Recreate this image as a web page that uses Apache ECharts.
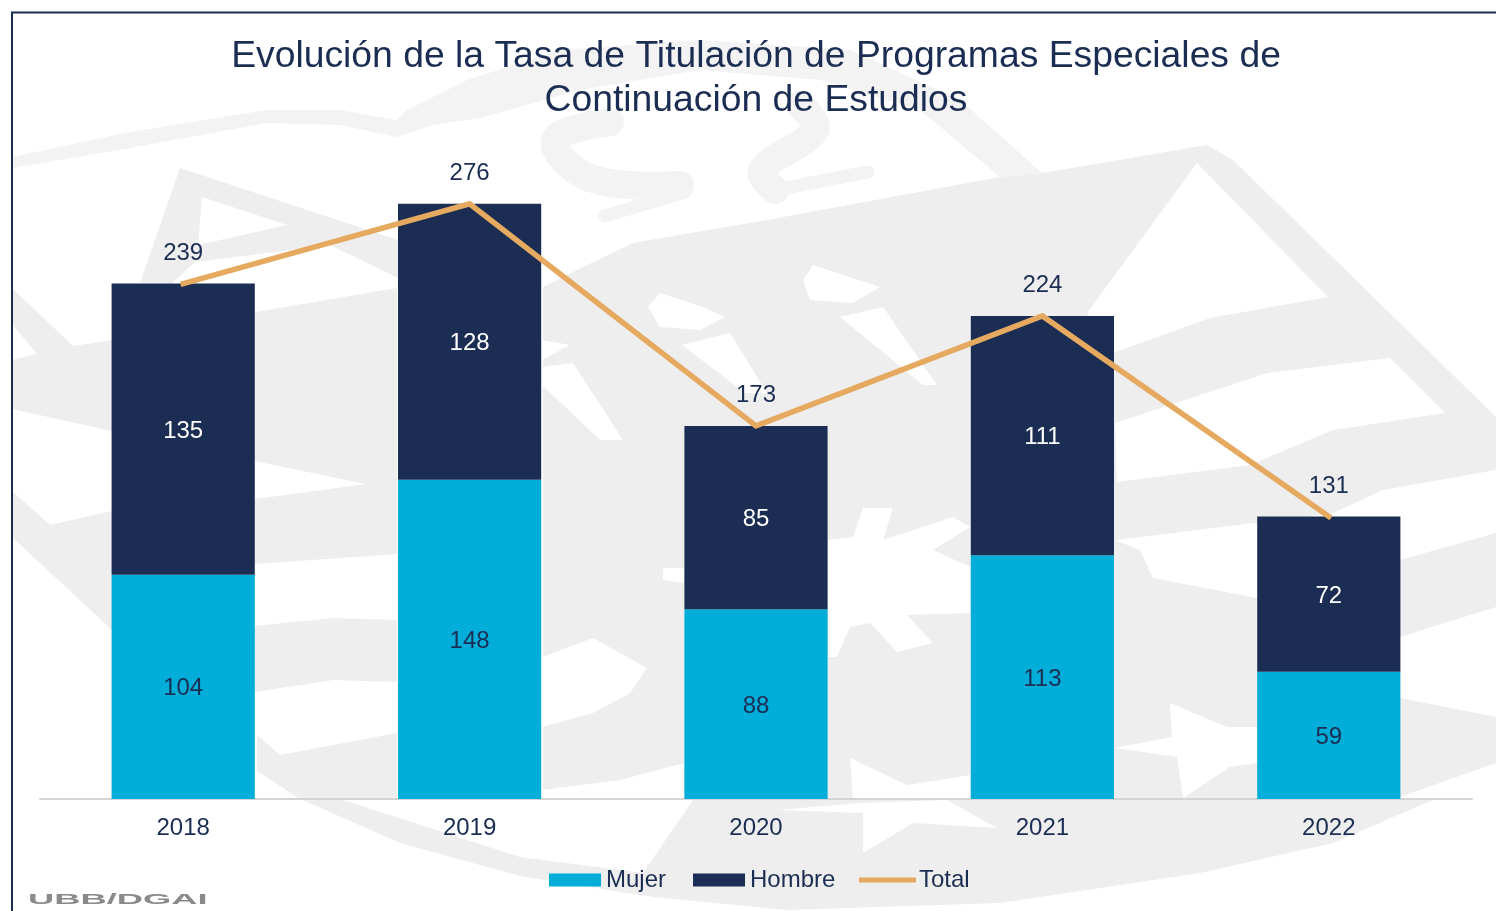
<!DOCTYPE html>
<html><head><meta charset="utf-8">
<style>html,body{margin:0;padding:0;background:#fff}#c{width:1496px;height:911px}</style>
<script src="https://cdn.jsdelivr.net/npm/echarts@6/dist/echarts.min.js"></script>
</head><body><div id="c"></div>
<script>
const titleText = 'Evolución de la Tasa de Titulación de Programas Especiales de\nContinuación de Estudios';
const categories = ['2018','2019','2020','2021','2022'];
const mujer = [104,148,88,113,59];
const hombre = [135,128,85,111,72];
const total = [239,276,173,224,131];
const navy = '#1b2d52', cyan = '#00aed9', gold = '#e5a95f';
const font = '"Liberation Sans", Arial, sans-serif';
const wmGrey = '#eeeeee', wmLight = '#f3f3f3';

// Faint crest drawn behind the chart (decoration only, not data)
const greyShapes = [
  [[543,287],[583,267],[633,243],[767,220],[1000,177],[1042,173],[1207,145],[1233,160],[1496,417],[1496,470],[1383,490],[1333,513],[1117,540],[1115,800],[543,800]],
  [[12,288],[73,346],[112,340],[255,312],[397,288],[397,480],[370,485],[255,461],[112,431],[12,409]],
  [[255,499],[397,480],[397,554],[255,564]],
  [[12,491],[50,525],[112,511],[255,499],[255,564],[112,630],[12,537]],
  [[255,626],[333,618],[397,620],[397,682],[333,680],[255,692]],
  [[257,735],[280,755],[397,733],[397,800],[300,799],[257,771]],
  [[1115,540],[1140,550],[1153,578],[1257,598],[1400,640],[1400,800],[1115,800]],
  [[1400,560],[1496,533],[1496,607],[1400,637]],
  [[1400,698],[1496,717],[1496,763],[1400,797]],
  [[300,799],[340,799],[520,857],[643,873],[693,800],[1433,800],[1333,843],[1200,873],[1000,903],[787,910],[653,897],[520,876],[400,843]],
  [[180,168],[398,240],[398,278],[330,245],[195,262],[172,283],[140,283]]
];
const lightShapes = [
  [[12,157],[130,132],[267,110],[340,110],[397,120],[407,110],[467,80],[560,50],[700,40],[850,50],[960,100],[1042,173],[1000,177],[920,110],[820,80],[700,70],[580,90],[480,118],[433,125],[397,137],[340,125],[267,123],[130,148],[12,168]]
];
const curlStrokes = [
  [[610,122],[555,140],[590,178],[680,185]],
  [[800,105],[815,130],[762,170],[775,190]]
];
const thinStrokes = [
  [[685,192],[605,216]],
  [[775,190],[868,172]]
];
const whiteShapes = [
  [[202,197],[287,225],[198,245]],
  [[12,324],[37,354],[12,360]],
  [[1197,163],[1328,297],[1210,318],[1113,353],[1087,313]],
  [[1115,423],[1267,373],[1390,358],[1445,413],[1333,430],[1250,465],[1117,482]],
  [[648,307],[660,293],[703,307],[725,317],[700,330],[660,327]],
  [[803,280],[813,265],[880,287],[853,303],[810,300]],
  [[840,317],[883,307],[937,385],[923,385]],
  [[682,345],[730,333],[767,393],[745,393]],
  [[542,340],[570,345],[542,360]],
  [[542,367],[573,363],[623,440],[600,440],[542,385]],
  [[542,657],[593,638],[647,668],[630,693],[593,713],[542,727]],
  [[542,790],[620,780],[684,763],[684,800],[542,800]],
  [[663,568],[684,568],[684,583],[663,580]],
  [[828,540],[853,537],[863,508],[893,508],[883,540],[953,517],[970,527],[933,550],[970,567],[970,613],[907,615],[933,643],[897,652],[870,623],[850,627],[837,657],[828,657]],
  [[850,758],[907,785],[970,775],[970,800],[853,800]],
  [[1170,703],[1227,727],[1257,727],[1257,763],[1230,767],[1183,798],[1177,757],[1115,748],[1172,737]],
  [[777,810],[860,803],[947,800],[997,828],[913,823],[863,853],[863,813]]
];

const poly = (points, fill) => ({type:'polygon', silent:true, z:-10, shape:{points}, style:{fill}});
const line = (points, w) => ({type:'polyline', silent:true, z:-10, shape:{points, smooth:0.4},
  style:{stroke:wmLight, lineWidth:w, fill:null, lineCap:'round', lineJoin:'round'}});

const chart = echarts.init(document.getElementById('c'), null, {renderer:'canvas'});
chart.setOption({
  animation:false,
  backgroundColor:'#fff',
  textStyle:{fontFamily:font, color:navy},
  title:{text:titleText, left:751, top:30, textAlign:'center',
    textStyle:{fontFamily:font, fontSize:37.3, fontWeight:'normal', color:navy, lineHeight:44}},
  grid:{left:40, right:24, top:152, height:647},
  xAxis:{type:'category', data:categories,
    axisLine:{lineStyle:{color:'#d4d4d4', width:2}}, axisTick:{show:false},
    axisLabel:{fontFamily:font, fontSize:24, color:navy, margin:17}},
  yAxis:{type:'value', min:0, max:300, show:false, splitLine:{show:false}},
  legend:[
    {left:549, top:868, padding:0, itemWidth:52, itemHeight:13, itemGap:27, icon:'rect',
      data:['Mujer','Hombre'],
      textStyle:{fontFamily:font, fontSize:24, color:navy}},
    {left:859, top:868, padding:0, itemWidth:57, itemHeight:5, icon:'rect',
      data:['Total'],
      textStyle:{fontFamily:font, fontSize:24, color:navy, padding:[0,0,0,-2]}}
  ],
  series:[
    {name:'Mujer', type:'bar', stack:'t', data:mujer, barWidth:'50%', itemStyle:{color:cyan},
      label:{show:true, position:'inside', offset:[0,2], fontFamily:font, fontSize:24, color:navy}},
    {name:'Hombre', type:'bar', stack:'t', data:hombre, itemStyle:{color:navy},
      label:{show:true, position:'inside', offset:[0,2], fontFamily:font, fontSize:24, color:'#fff'}},
    {name:'Total', type:'line', data:total, symbol:'circle', symbolSize:1, showSymbol:true,
      lineStyle:{color:gold, width:5.5, cap:'square', join:'miter'},
      itemStyle:{color:gold}, z:5,
      label:{show:true, position:'top', distance:18, fontFamily:font, fontSize:24, color:navy}}
  ],
  graphic:[
    ...lightShapes.map(p => poly(p, wmLight)),
    ...greyShapes.map(p => poly(p, wmGrey)),
    ...curlStrokes.map(p => line(p, 28)),
    ...thinStrokes.map(p => line(p, 13)),
    ...whiteShapes.map(p => poly(p, '#ffffff')),
    {type:'line', silent:true, z:20, shape:{x1:12,y1:12,x2:12,y2:911}, style:{stroke:navy, lineWidth:2}},
    {type:'line', silent:true, z:20, shape:{x1:11,y1:12.5,x2:1496,y2:12.5}, style:{stroke:navy, lineWidth:2}},
    {type:'text', silent:true, z:20, x:28, y:892, scaleX:2.27, scaleY:0.95,
      style:{text:'UBB/DGAI', fontFamily:font, fontWeight:'bold', fontSize:16, fill:'#8a8a8a', shadowBlur:2, shadowColor:'#aaaaaa'}}
  ]
});
</script></body></html>
